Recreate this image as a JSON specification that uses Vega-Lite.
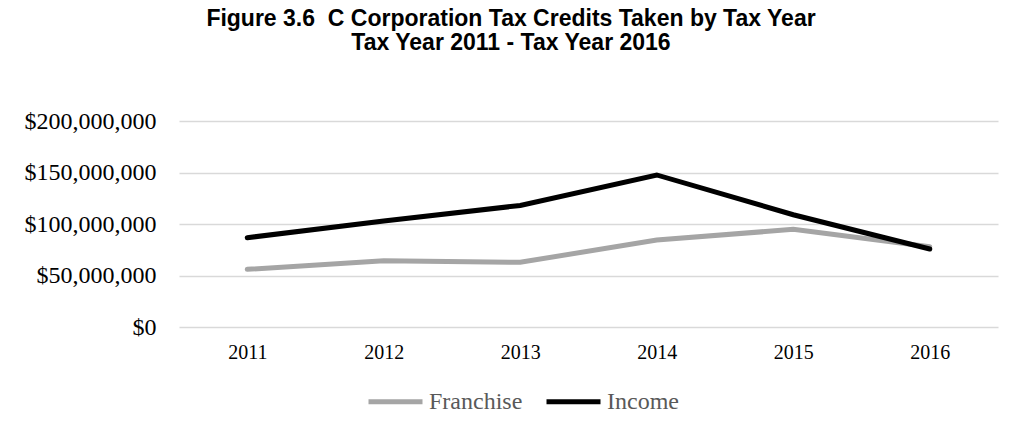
{
  "$schema": "https://vega.github.io/schema/vega-lite/v6.json",
  "width": 819,
  "height": 206,
  "padding": {"left": 24, "top": 8, "right": 21, "bottom": 10},
  "background": "white",
  "title": {
    "text": ["Figure 3.6 \u00a0C Corporation Tax Credits Taken by Tax Year", "Tax Year 2011 - Tax Year 2016"],
    "font": "Liberation Sans",
    "fontSize": 23,
    "fontWeight": "bold",
    "color": "#000000",
    "anchor": "middle",
    "frame": "bounds",
    "lineHeight": 24,
    "offset": 54
  },
  "data": {
    "values": [
      {"year": "2011", "type": "Franchise", "value": 56000000},
      {"year": "2012", "type": "Franchise", "value": 64400000},
      {"year": "2013", "type": "Franchise", "value": 62800000},
      {"year": "2014", "type": "Franchise", "value": 84500000},
      {"year": "2015", "type": "Franchise", "value": 94800000},
      {"year": "2016", "type": "Franchise", "value": 78000000},
      {"year": "2011", "type": "Income", "value": 86700000},
      {"year": "2012", "type": "Income", "value": 103000000},
      {"year": "2013", "type": "Income", "value": 118000000},
      {"year": "2014", "type": "Income", "value": 147600000},
      {"year": "2015", "type": "Income", "value": 109000000},
      {"year": "2016", "type": "Income", "value": 75700000}
    ]
  },
  "mark": {"type": "line", "strokeWidth": 5, "strokeCap": "round", "strokeJoin": "miter"},
  "encoding": {
    "x": {
      "field": "year", "type": "ordinal", "title": null,
      "scale": {"type": "point", "padding": 0.5},
      "axis": {"labelAngle": 0, "ticks": false, "domain": false, "grid": false,
               "labelFont": "Liberation Serif", "labelFontSize": 20, "labelColor": "#000000", "labelPadding": 15}
    },
    "y": {
      "field": "value", "type": "quantitative", "title": null,
      "scale": {"domain": [0, 200000000]},
      "axis": {"values": [0, 50000000, 100000000, 150000000, 200000000], "format": "$,.0f",
               "ticks": false, "domain": false, "gridColor": "#d9d9d9", "gridWidth": 1.5,
               "labelFont": "Liberation Serif", "labelFontSize": 24, "labelColor": "#000000", "labelPadding": 23}
    },
    "color": {
      "field": "type", "type": "nominal", "title": null,
      "scale": {"domain": ["Franchise", "Income"], "range": ["#a5a5a5", "#000000"]},
      "legend": {"orient": "none", "direction": "horizontal", "legendX": 187, "legendY": 251,
                 "symbolType": "stroke", "symbolSize": 2916, "symbolStrokeWidth": 5,
                 "labelFont": "Liberation Serif", "labelFontSize": 24, "labelColor": "#595959",
                 "labelOffset": 4, "columnPadding": 13}
    }
  },
  "config": {"view": {"stroke": null}}
}
